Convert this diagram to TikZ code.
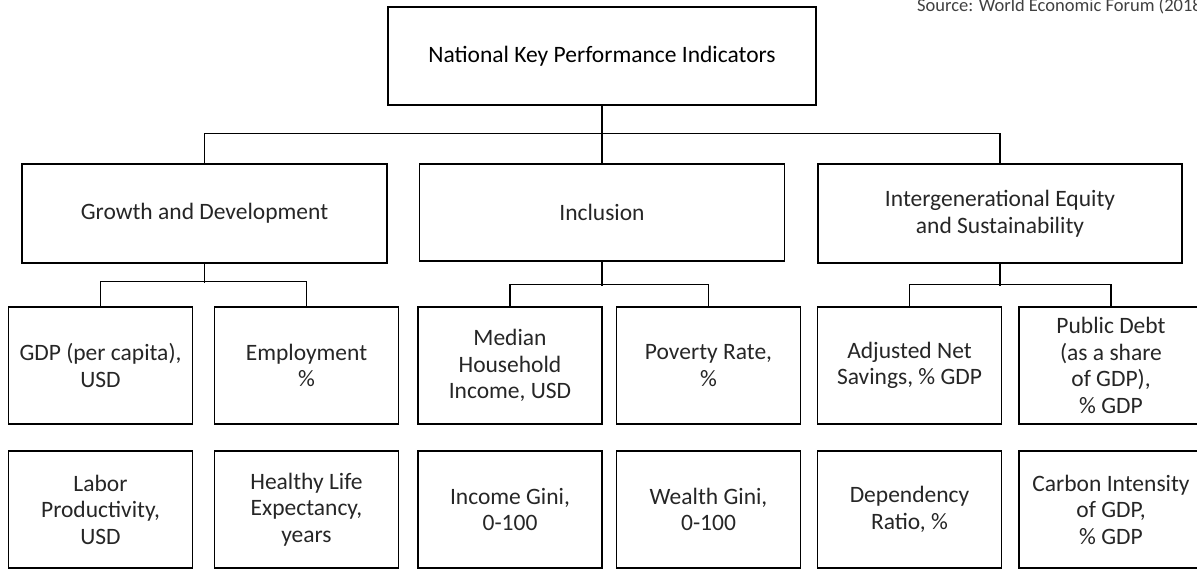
\documentclass[tikz,border=0pt]{standalone}
\usepackage{fontspec}
\setmainfont{Carlito}
\usetikzlibrary{positioning}

\tikzset{
  box/.style={draw, line width=1.6pt, align=center, inner sep=0pt,
    text=black!85, font=\fontsize{23.5}{26.5}\selectfont},
  kpibox/.style={box, minimum width=184pt, minimum height=117pt},
  link/.style={line width=1.2pt}
}

\begin{document}
\begin{tikzpicture}[x=1pt,y=-1pt]
    \useasboundingbox (0,0) rectangle (1197,570);

    \node[anchor=base west, text=black!75, inner sep=0pt,
      font=\fontsize{18.5}{20}\selectfont] (src) at (917,11) {Source: World Economic Forum (2018)};

    \node[box, text=black, minimum width=428pt, minimum height=98pt] (nkpi) at (602,56) {National Key Performance Indicators};

    % pillars
    \node[box, minimum width=365pt, minimum height=99pt] (growth) at (204.5,213.5) {Growth and Development};
    \node[box, minimum width=365pt, minimum height=97pt] (incl)   at (602,212.5)   {Inclusion};
    \node[box, minimum width=364pt, minimum height=99pt] (equity) at (1000,213.5)  {Intergenerational Equity\\and Sustainability};

    % first row of indicators
    \node[kpibox] (gdp)     at (100.5,365.5) {GDP (per capita),\\USD};
    \node[kpibox] (empl)    at (306.5,365.5) {Employment\\\%};
    \node[kpibox] (median)  at (510,365.5)   {Median\\Household\\Income, USD};
    \node[kpibox] (poverty) at (708.5,365.5) {Poverty Rate,\\\%};
    \node[kpibox] (savings) at (909.5,365.5) {Adjusted Net\\Savings, \% GDP};
    \node[kpibox] (debt)    at (1111,365.5)  {Public Debt\\(as a share\\of GDP),\\\% GDP};

    % second row of indicators
    \node[kpibox] (labor)   at (100.5,509.5) {Labor\\Productivity,\\USD};
    \node[kpibox] (life)    at (306.5,509.5) {Healthy Life\\Expectancy,\\years};
    \node[kpibox] (igini)   at (510,509.5)   {Income Gini,\\0-100};
    \node[kpibox] (wgini)   at (708.5,509.5) {Wealth Gini,\\0-100};
    \node[kpibox] (depend)  at (909.5,509.5) {Dependency\\Ratio, \%};
    \node[kpibox] (carbon)  at (1111,509.5)  {Carbon Intensity\\of GDP,\\\% GDP};

    % connectors
    \draw[link] (nkpi.south) -- (incl.north);
    \draw[link] (growth.north) -- ++(0,-30) -| (equity.north);

    \draw[link] (growth.south) -- ++(0,19);
    \draw[link] (gdp.north) -- ++(0,-25) -| (empl.north);
    \draw[link] (incl.south) -- ++(0,24);
    \draw[link] (median.north) -- ++(0,-22) -| (poverty.north);
    \draw[link] (equity.south) -- ++(0,22);
    \draw[link] (savings.north) -- ++(0,-22) -| (debt.north);
\end{tikzpicture}
\end{document}
